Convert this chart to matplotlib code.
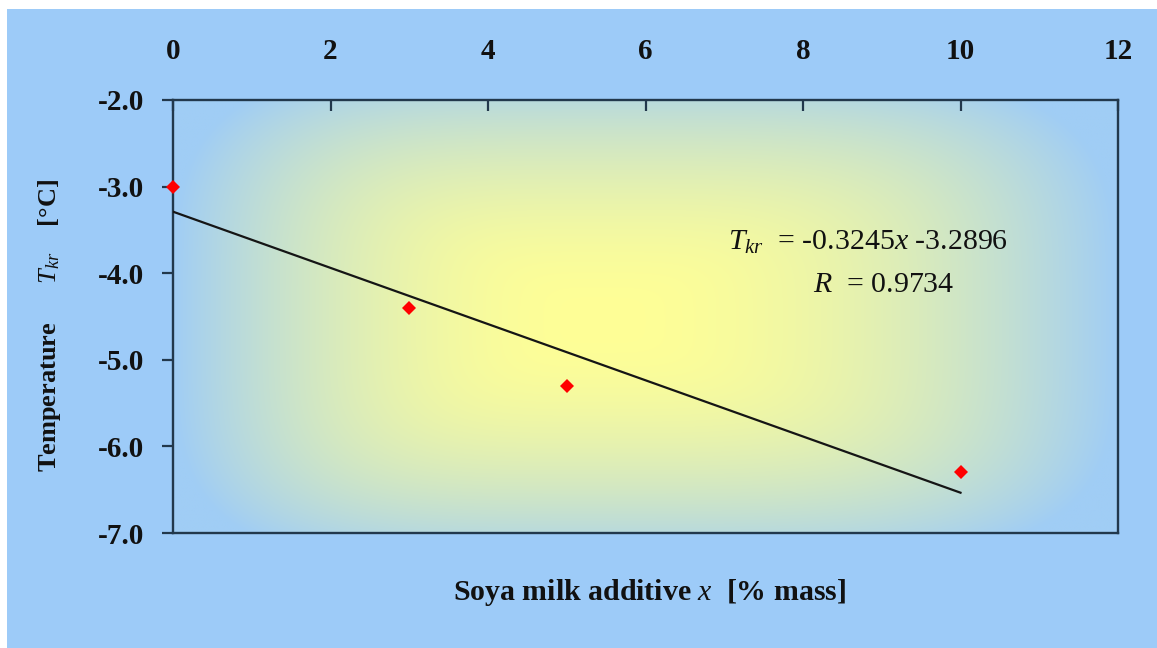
import numpy as np
import matplotlib
matplotlib.use("Agg")
import matplotlib.pyplot as plt
from matplotlib.patches import Rectangle

# Freezing temperature vs. soya milk additive
x_mass = [0, 3, 5, 10]
t_kr = [-3.0, -4.4, -5.3, -6.3]

# Linear fit reported on the chart
slope = -0.3245
intercept = -3.2896
r_value = 0.9734
fit_x = [0, 10]

x_ticks = [0, 2, 4, 6, 8, 10, 12]
y_ticks = [-2.0, -3.0, -4.0, -5.0, -6.0, -7.0]

plt.rcParams['font.family'] = ['Liberation Serif', 'DejaVu Serif']
plt.rcParams['mathtext.fontset'] = 'custom'
plt.rcParams['mathtext.rm'] = 'Liberation Serif'
plt.rcParams['mathtext.it'] = 'Liberation Serif:italic'
plt.rcParams['mathtext.bf'] = 'Liberation Serif:bold'

W, H = 1157, 648
fig = plt.figure(figsize=(W / 100, H / 100), dpi=100)
fig.patch.set_facecolor('white')
fig.patches.append(Rectangle((7 / W, 0), 1 - 7 / W, 1 - 9 / H,
                             transform=fig.transFigure, facecolor='#9DCBF8',
                             edgecolor='none', zorder=-10))

ax = fig.add_axes([173 / W, 1 - 533 / H, (1118 - 173) / W, (533 - 100) / H])
ax.set_xlim(0, 12)
ax.set_ylim(-7, -2)

# Centre-out gradient fill of the plot area (yellow centre, blue rim)
nu, nv = 600, 300
u = np.linspace(0, 1, nu)
v = np.linspace(0, 1, nv)
U, V = np.meshgrid(u, v)
u0, v0 = 0.45, 0.49
du = np.where(U < u0, (u0 - U) / u0, (U - u0) / (1 - u0))
dv = 0.85 * np.where(V < v0, (v0 - V) / v0, (V - v0) / (1 - v0))
p = 4.0
t = np.clip((du ** p + dv ** p) ** (1 / p), 0, 1) ** 1.9
yellow = np.array([255, 255, 150]) / 255
blue = np.array([160, 205, 245]) / 255
rgb = yellow[None, None, :] * (1 - t[..., None]) + blue[None, None, :] * t[..., None]
ax.imshow(rgb, extent=(0, 12, -7, -2), origin='lower', aspect='auto',
          zorder=0, interpolation='bilinear')

# Trend line and measured points
fit_y = [slope * xv + intercept for xv in fit_x]
ax.plot(fit_x, fit_y, color='#151515', lw=1.6, zorder=3)
ax.plot(x_mass, t_kr, linestyle='none', marker='D', markersize=7.2,
        color='#FF0000', markeredgewidth=0, zorder=4, clip_on=False)

spine_color = '#22384C'
for s in ax.spines.values():
    s.set_color(spine_color)
    s.set_linewidth(1.7)

ax.xaxis.tick_top()
ax.set_xticks(x_ticks)
ax.set_xticklabels([str(v) for v in x_ticks])
ax.set_yticks(y_ticks)
ax.set_yticklabels([f'{v:.1f}' for v in y_ticks])
ax.tick_params(axis='x', direction='in', length=8, width=1.6, color=spine_color,
               pad=25, labelsize=21, labelcolor='#111111')
ax.tick_params(axis='y', direction='out', length=8, width=1.6, color=spine_color,
               pad=13, labelsize=21, labelcolor='#111111')
for lbl in ax.get_xticklabels() + ax.get_yticklabels():
    lbl.set_fontweight('bold')

# Regression annotation
ax.text(8.82, -3.65, rf'$T_{{kr}}$  = {slope:.4f}$x$ {intercept:.4f}',
        ha='center', va='center', fontsize=21.5, color='#111111', zorder=5)
ax.text(9.02, -4.14, rf'$R$  = {r_value:.4f}',
        ha='center', va='center', fontsize=21.5, color='#111111', zorder=5)

fig.text(650 / W, 1 - 592 / H, r'Soya milk additive $x$  [% mass]',
         ha='center', va='center', fontsize=21.5, fontweight='bold', color='#111111')
fig.text(50 / W, 1 - 325 / H, r'Temperature      $T_{kr}$    [°C]',
         ha='center', va='center', rotation=90, fontsize=19, fontweight='bold',
         color='#111111')

fig.savefig('out.png', dpi=100, facecolor=fig.get_facecolor())
